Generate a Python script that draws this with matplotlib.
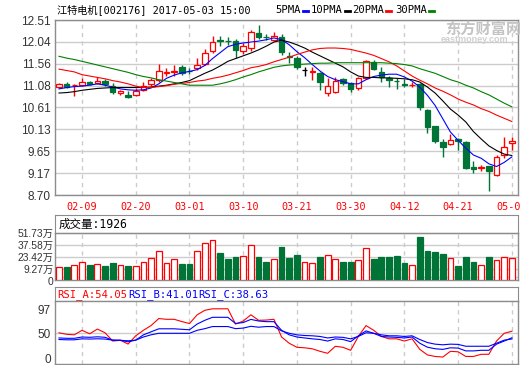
import numpy as np
import matplotlib
matplotlib.use('Agg')
import matplotlib.pyplot as plt
from matplotlib.lines import Line2D

plt.rcParams['font.family'] = ['Liberation Sans', 'Noto Sans CJK SC']
MONO = ['DejaVu Sans Mono', 'Noto Sans CJK SC']

# trading days shown on the chart
trade_dates = ['02-06', '02-07', '02-08', '02-09', '02-10', '02-13', '02-14', '02-15', '02-16', '02-17',
               '02-20', '02-21', '02-22', '02-23', '02-24', '02-27', '02-28', '03-01', '03-02', '03-03',
               '03-06', '03-07', '03-08', '03-09', '03-10', '03-13', '03-14', '03-15', '03-16', '03-17',
               '03-20', '03-21', '03-22', '03-23', '03-24', '03-27', '03-28', '03-29', '03-30', '03-31',
               '04-05', '04-06', '04-07', '04-10', '04-11', '04-12', '04-13', '04-14', '04-17', '04-18',
               '04-19', '04-20', '04-21', '04-24', '04-25', '04-26', '04-27', '04-28', '05-02', '05-03']
tick_dates = ['02-09', '02-20', '03-01', '03-10', '03-21', '03-30', '04-12', '04-21', '05-03']

opens = [11.06, 11.12, 11.09, 11.09, 11.16, 11.13, 11.18, 11.07, 10.93, 10.88,
         10.88, 10.99, 11.12, 11.20, 11.36, 11.38, 11.48, 11.40, 11.47, 11.55,
         11.83, 12.07, 12.06, 12.05, 11.84, 11.89, 12.22, 12.15, 12.08, 12.15,
         11.72, 11.68, 11.42, 11.38, 11.35, 10.91, 10.95, 11.22, 11.13, 11.04,
         11.25, 11.60, 11.37, 11.25, 11.19, 11.11, 11.09, 11.12, 10.56, 10.20,
         9.86, 9.80, 9.93, 9.86, 9.32, 9.29, 9.33, 9.14, 9.57, 9.83]
closes = [11.12, 11.05, 11.10, 11.16, 11.11, 11.18, 11.11, 10.94, 10.96, 10.84,
          10.97, 11.07, 11.20, 11.40, 11.37, 11.39, 11.36, 11.39, 11.53, 11.79,
          12.04, 12.06, 12.05, 11.86, 11.94, 12.24, 12.15, 12.14, 12.17, 11.82,
          11.71, 11.48, 11.42, 11.39, 11.17, 11.07, 11.19, 11.13, 11.01, 11.24,
          11.62, 11.44, 11.26, 11.20, 11.18, 11.10, 11.10, 10.62, 10.17, 9.88,
          9.75, 9.89, 9.87, 9.28, 9.27, 9.30, 9.22, 9.52, 9.74, 9.88]
highs = [11.14, 11.17, 11.11, 11.25, 11.18, 11.26, 11.22, 11.13, 10.99, 10.96,
         11.03, 11.17, 11.24, 11.55, 11.46, 11.53, 11.53, 11.47, 11.69, 11.87,
         12.17, 12.17, 12.15, 12.09, 12.00, 12.29, 12.40, 12.20, 12.24, 12.20,
         11.82, 11.72, 11.49, 11.49, 11.38, 11.24, 11.27, 11.25, 11.15, 11.26,
         11.64, 11.64, 11.48, 11.28, 11.25, 11.23, 11.15, 11.13, 10.57, 10.21,
         9.93, 10.03, 9.95, 9.87, 9.45, 9.36, 9.34, 9.57, 9.96, 9.96]
lows = [11.04, 11.02, 10.85, 11.08, 11.10, 11.12, 11.07, 10.89, 10.88, 10.82,
        10.86, 10.96, 11.08, 11.16, 11.28, 11.28, 11.31, 11.33, 11.42, 11.52,
        11.80, 11.95, 11.97, 11.69, 11.76, 11.83, 12.10, 12.07, 12.06, 11.74,
        11.58, 11.45, 11.28, 11.20, 10.99, 10.86, 10.92, 11.10, 10.94, 10.98,
        11.22, 11.42, 11.16, 11.05, 11.01, 11.06, 11.06, 10.56, 10.06, 9.83,
        9.52, 9.78, 9.68, 9.27, 9.18, 9.22, 8.79, 9.12, 9.50, 9.67]

ma5 = [11.01, 11.04, 11.06, 11.07, 11.09, 11.12, 11.09, 11.05, 11.01, 10.99,
       10.98, 10.99, 11.03, 11.12, 11.24, 11.31, 11.36, 11.39, 11.43, 11.52,
       11.67, 11.80, 11.93, 11.98, 12.01, 12.03, 12.05, 12.08, 12.12, 12.08,
       11.97, 11.82, 11.69, 11.54, 11.40, 11.28, 11.21, 11.17, 11.12, 11.12,
       11.21, 11.28, 11.31, 11.33, 11.33, 11.27, 11.18, 11.05, 10.87, 10.65,
       10.36, 10.07, 9.89, 9.72, 9.57, 9.50, 9.38, 9.32, 9.41, 9.53]
ma10 = [10.92, 10.93, 10.95, 10.98, 11.00, 11.02, 11.03, 11.04, 11.04, 11.04,
        11.04, 11.04, 11.05, 11.07, 11.09, 11.12, 11.15, 11.19, 11.27, 11.35,
        11.42, 11.51, 11.61, 11.67, 11.73, 11.79, 11.86, 11.94, 12.03, 12.07,
        12.03, 11.97, 11.90, 11.81, 11.73, 11.65, 11.57, 11.49, 11.38, 11.29,
        11.26, 11.26, 11.25, 11.25, 11.24, 11.23, 11.21, 11.16, 11.05, 10.92,
        10.75, 10.57, 10.44, 10.29, 10.08, 9.92, 9.77, 9.67, 9.59, 9.56]
ma20 = [11.44, 11.41, 11.38, 11.32, 11.29, 11.26, 11.23, 11.19, 11.16, 11.12,
        11.07, 11.04, 11.04, 11.06, 11.08, 11.11, 11.13, 11.15, 11.18, 11.20,
        11.24, 11.27, 11.31, 11.36, 11.41, 11.47, 11.50, 11.54, 11.60, 11.65,
        11.70, 11.76, 11.81, 11.86, 11.89, 11.90, 11.90, 11.89, 11.87, 11.83,
        11.79, 11.74, 11.67, 11.60, 11.51, 11.40, 11.29, 11.20, 11.12, 11.03,
        10.96, 10.88, 10.79, 10.72, 10.66, 10.58, 10.52, 10.44, 10.37, 10.30]
ma30 = [11.72, 11.68, 11.65, 11.61, 11.57, 11.53, 11.49, 11.45, 11.41, 11.37,
        11.32, 11.28, 11.25, 11.21, 11.18, 11.15, 11.12, 11.09, 11.09, 11.09,
        11.09, 11.12, 11.16, 11.21, 11.27, 11.32, 11.38, 11.43, 11.48, 11.51,
        11.53, 11.54, 11.55, 11.56, 11.57, 11.57, 11.58, 11.58, 11.58, 11.58,
        11.58, 11.58, 11.58, 11.57, 11.56, 11.54, 11.51, 11.45, 11.40, 11.35,
        11.28, 11.21, 11.16, 11.09, 11.03, 10.95, 10.88, 10.79, 10.70, 10.62]

# volume in 万
volume = [11.7, 12.0, 13.9, 17.2, 14.2, 15.0, 13.1, 16.4, 13.9, 13.1,
          13.1, 17.5, 21.9, 30.3, 16.1, 21.5, 15.3, 15.3, 30.6, 40.1,
          43.4, 28.4, 20.8, 24.1, 24.8, 38.0, 23.0, 17.5, 21.5, 35.0,
          21.9, 26.3, 17.2, 16.1, 24.1, 25.9, 21.5, 17.5, 17.5, 20.4,
          33.6, 20.8, 23.0, 23.0, 25.2, 16.4, 13.9, 47.0, 30.6, 29.5,
          27.4, 22.6, 13.1, 23.0, 17.5, 13.9, 23.0, 20.4, 23.7, 21.9]

rsi_a = [51, 48, 47, 56, 49, 58.5, 51, 34.5, 36, 28.5,
         45, 56, 65.5, 79.5, 78, 78, 73.5, 69.5, 87, 96,
         99, 99, 99, 68.5, 74.5, 87, 76, 76.5, 78, 42.6,
         30, 22, 21, 19, 14, 10, 24, 22, 16, 43.7,
         65.4, 56, 43.7, 39, 39, 34.5, 39, 18, 6.7, 3.7,
         2.5, 14, 13, 3.7, 3.7, 8, 8, 34.5, 50, 54.05]
rsi_b = [40.7, 40, 40, 42.6, 42, 43, 42, 36.3, 36, 33,
         36.3, 46.9, 53, 59, 59, 59, 58, 57, 68.5, 76,
         82, 82, 82, 69.6, 71.5, 77.8, 74.6, 73.3, 73.3, 56,
         46.9, 42.6, 40.7, 38.9, 37.6, 34.5, 38.9, 37.6, 33.3, 45,
         54.8, 50, 43.7, 42.6, 41.9, 40.7, 42.6, 30.2, 22.2, 19.1,
         17.8, 21, 20.4, 14.8, 14.8, 16, 16, 28.3, 34.5, 41.01]
rsi_c = [37.6, 37, 37, 38.9, 38.5, 39, 38.5, 36.3, 36, 35,
         36.3, 42.6, 47, 50, 50, 50, 50, 50, 56, 59.3,
         63.5, 63.5, 63.5, 59.3, 60.4, 64, 62.2, 63.5, 63.5, 54.8,
         50, 46.9, 45.6, 45, 43.7, 40.7, 42.6, 41.9, 38.9, 43.7,
         51.1, 50, 46.9, 45, 45, 43.7, 45, 37.6, 31.5, 28.3,
         27, 28.3, 27.8, 24.1, 24.1, 24.1, 24.1, 30.2, 36.3, 38.63]

price_ticks = [8.70, 9.17, 9.65, 10.13, 10.61, 11.08, 11.56, 12.04, 12.51]
vol_ticks = [0, 9.27, 23.42, 37.58, 51.73]
rsi_ticks = [0, 50, 97]

RED = '#ff0000'
GRN = '#007336'
BLUE = '#0000ff'
GRID = '#cccccc'
EDGE = '#8c8c8c'

W, H = 520, 365
fig = plt.figure(figsize=(W / 100, H / 100), dpi=100)


def panel(l, t, r, b):
    return fig.add_axes([l / W, 1 - b / H, (r - l) / W, (b - t) / H])


def fx(x):
    return x / W


def fy(y):
    return 1 - y / H


n = len(closes)
x = np.arange(n)
xpos = [trade_dates.index(d) for d in tick_dates]
XLIM = (-0.52, 59.8)


def style(ax):
    ax.set_xlim(*XLIM)
    for s in ax.spines.values():
        s.set_color(EDGE)
        s.set_linewidth(1)
    ax.tick_params(length=0)
    ax.set_xticks(xpos)
    ax.xaxis.grid(True, color=GRID, lw=1, ls=(0, (3, 3)))
    ax.yaxis.grid(True, color=GRID, lw=1)
    ax.set_axisbelow(True)


# price panel
ax = panel(55, 20, 518, 195)
style(ax)
for i in range(n):
    o, h, l, c = opens[i], highs[i], lows[i], closes[i]
    if c > o:
        col, face = RED, 'white'
    elif c < o:
        col, face = GRN, GRN
    else:
        col, face = 'black', 'black'
    ax.vlines(i, l, h, color=col, lw=1, zorder=2)
    ax.bar(i, max(abs(c - o), 0.003), bottom=min(o, c), width=0.72,
           facecolor=face, edgecolor=col, lw=0.9, zorder=3)
ax.plot(x, ma5, color=BLUE, lw=0.8, zorder=4)
ax.plot(x, ma10, color='black', lw=0.8, zorder=4)
ax.plot(x, ma20, color=RED, lw=0.8, zorder=4)
ax.plot(x, ma30, color='#008000', lw=0.8, zorder=4)
ax.set_ylim(8.70, 12.51)
ax.set_yticks(price_ticks)
ax.set_yticklabels(['%.2f' % v for v in price_ticks])
ax.tick_params(axis='y', labelsize=8.5, labelcolor='#333333', pad=3)
ax.set_xticklabels(tick_dates, color=RED, fontsize=7.3, family=MONO)
ax.tick_params(axis='x', pad=5)

# volume panel
vh = panel(55, 215, 518, 232.7)
vh.set_xticks([])
vh.set_yticks([])
for s in vh.spines.values():
    s.set_color(EDGE)
vh.text(0.007, 0.45, '成交量:1926', transform=vh.transAxes, va='center', fontsize=8.3, family=MONO)

VOL_FLOOR = -3.1
axv = panel(55, 232.7, 518, 280)
style(axv)
up = [c >= o for o, c in zip(opens, closes)]
axv.bar(x, [v - VOL_FLOOR for v in volume], bottom=VOL_FLOOR, width=0.75,
        facecolor=['white' if u else GRN for u in up],
        edgecolor=[RED if u else GRN for u in up], lw=0.9, zorder=3)
axv.set_ylim(VOL_FLOOR, 51.73)
axv.set_yticks(vol_ticks)
axv.set_yticklabels(['0' if v == 0 else '%.2f万' % v for v in vol_ticks])
axv.tick_params(axis='y', labelsize=7.4, labelcolor='#333333', pad=1)
axv.get_yticklabels()[0].set_va('top')
axv.set_xticklabels([])

# RSI panel
rh = panel(55, 287.3, 518, 301)
rh.set_xticks([])
rh.set_yticks([])
for s in rh.spines.values():
    s.set_color(EDGE)
rh.text(0.005, 0.45, 'RSI_A:54.05', color=RED, transform=rh.transAxes, va='center', fontsize=7.6, family=MONO)
rh.text(0.158, 0.45, 'RSI_B:41.01', color=BLUE, transform=rh.transAxes, va='center', fontsize=7.6, family=MONO)
rh.text(0.31, 0.45, 'RSI_C:38.63', color=BLUE, transform=rh.transAxes, va='center', fontsize=7.6, family=MONO)

axr = panel(55, 301, 518, 364)
style(axr)
axr.yaxis.grid(False)
axr.axhline(50, color=GRID, lw=1, zorder=0)
axr.plot(x, rsi_a, color=RED, lw=0.8)
axr.plot(x, rsi_b, color=BLUE, lw=0.8)
axr.plot(x, rsi_c, color=BLUE, lw=0.8)
axr.set_ylim(-11.4, 114.6)
axr.set_yticks(rsi_ticks)
axr.tick_params(axis='y', labelsize=8.5, labelcolor='#333333', pad=3)
axr.set_xticklabels([])

# title and MA legend
fig.text(fx(57), fy(10), '江特电机[002176] 2017-05-03 15:00', fontsize=7.3, family=MONO, va='center')
legend = [('5PMA', 275, BLUE), ('10PMA', 311, 'black'), ('20PMA', 352, RED), ('30PMA', 395, '#008000')]
fig.canvas.draw()
for label, lx, lc in legend:
    t = fig.text(fx(lx), fy(10), label, fontsize=7.6, family=MONO, va='center')
    ext = t.get_window_extent(renderer=fig.canvas.get_renderer())
    fig.add_artist(Line2D([fx(ext.x1 + 2), fx(ext.x1 + 7)], [fy(11), fy(11)],
                          transform=fig.transFigure, color=lc, lw=2))

# watermark
fig.text(fx(483), fy(29), '东方财富网', fontsize=11, color='#c4c4c4', ha='center', va='center', fontweight='bold')
fig.text(fx(474), fy(40), 'eastmoney.com', fontsize=6.5, color='#d0d0d0', ha='center', va='center', fontweight='bold')

fig.savefig('out.png', dpi=100)
